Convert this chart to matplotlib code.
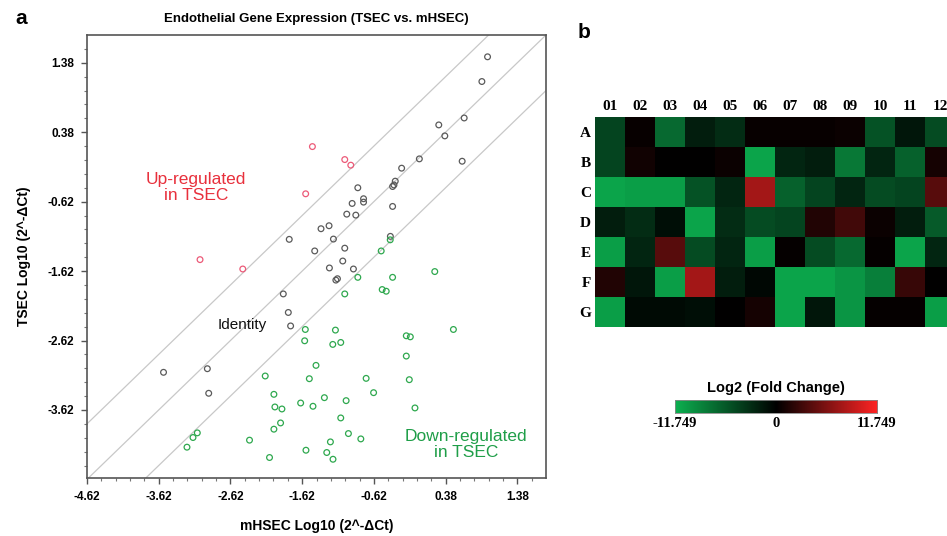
import numpy as np
import matplotlib
matplotlib.use("Agg")
import matplotlib.pyplot as plt
from matplotlib.colors import LinearSegmentedColormap

# Panel a: scatter data (log10 2^-dCt)
black_x = [0.965, 0.886, 0.639, 0.285, 0.369, 0.611, 0.014, -0.233, -0.322, -0.359,
           -0.34, -0.359, -0.844, -0.764, -0.764, -0.923, -0.998, -0.872, -1.245, -1.357,
           -1.8, -1.184, -1.445, -1.026, -1.054, -1.24, -0.905, -1.128, -1.15, -0.39,
           -1.883, -1.813, -1.781, -2.942, -3.553, -2.923]
black_y = [1.466, 1.11, 0.585, 0.485, 0.327, -0.038, -0.004, -0.138, -0.325, -0.402,
           -0.38, -0.689, -0.42, -0.578, -0.627, -0.646, -0.8, -0.814, -0.967, -1.01,
           -1.163, -1.159, -1.33, -1.29, -1.475, -1.575, -1.59, -1.73, -1.75, -1.12,
           -1.949, -2.216, -2.41, -3.026, -3.078, -3.38]

red_x = [-1.477, -1.026, -0.942, -1.571, -3.044, -2.448]
red_y = [0.173, -0.014, -0.095, -0.507, -1.455, -1.59]

green_x = [-0.392, -0.518, 0.229, -0.844, -0.359, -0.504, -0.448, -1.026, -1.576, -1.156,
           0.489, -1.585, -1.082, -1.193, -0.168, -0.112, -0.168, -1.427, -2.135, -1.52,
           -0.728, -0.126, -0.624, -2.014, -1.31, -1.641, -1.007, -1.469, -2.0, -1.902,
           -0.047, -1.082, -1.921, -2.014, -0.975, -3.082, -3.142, -3.226, -2.354, -0.802,
           -1.226, -1.567, -1.277, -2.075, -1.19]
green_y = [-1.17, -1.33, -1.627, -1.71, -1.71, -1.886, -1.91, -1.949, -2.461, -2.47,
           -2.461, -2.624, -2.648, -2.676, -2.552, -2.567, -2.844, -2.978, -3.131, -3.17,
           -3.165, -3.184, -3.371, -3.395, -3.443, -3.52, -3.486, -3.567, -3.577, -3.606,
           -3.591, -3.735, -3.807, -3.897, -3.96, -3.95, -4.017, -4.156, -4.055, -4.037,
           -4.08, -4.2, -4.233, -4.305, -4.33]

line_offsets = [0.8, 0.0, -0.8]
x_ticks = [-4.62, -3.62, -2.62, -1.62, -0.62, 0.38, 1.38]
y_ticks = [-3.62, -2.62, -1.62, -0.62, 0.38, 1.38]

# Panel b: log2 fold change per well
col_labels = ["01", "02", "03", "04", "05", "06", "07", "08", "09", "10", "11", "12"]
row_labels = ["A", "B", "C", "D", "E", "F", "G"]
fold_change = [
    [-4.5, 0.3, -7.0, -2.0, -3.0, 0.3, 0.3, 0.3, 0.5, -5.5, -1.5, -5.0],
    [-4.5, 0.8, 0.0, 0.0, 0.5, -11.0, -2.5, -2.0, -8.0, -2.5, -6.5, 1.0],
    [-11.0, -10.5, -10.5, -5.5, -2.5, 7.5, -6.5, -4.5, -2.5, -5.0, -4.5, 4.0],
    [-2.0, -3.0, -1.0, -11.0, -3.0, -5.0, -4.5, 1.5, 3.0, 0.5, -2.0, -6.0],
    [-10.5, -2.5, 4.0, -5.0, -2.5, -10.5, 0.2, -5.0, -7.0, 0.2, -11.0, -2.5],
    [1.5, -1.5, -10.5, 7.5, -2.0, -0.5, -11.0, -11.0, -10.0, -8.5, 2.5, 0.0],
    [-10.5, -0.7, -0.7, -1.0, 0.0, 1.0, -11.0, -1.5, -10.0, 0.2, 0.2, -10.5],
]
fc_limit = 11.749

fig = plt.figure(figsize=(9.47, 5.36), dpi=100)
sans = ["Liberation Sans", "DejaVu Sans"]
serif = ["Liberation Serif", "DejaVu Serif"]

# ---- panel a ----
ax = fig.add_axes([87 / 947, 1 - 478 / 536, 459 / 947, 443 / 536])
x_lo, x_hi = -4.62, 1.78
y_lo, y_hi = -4.60, 1.78
xs = np.array([x_lo - 1, x_hi + 1])
for off in line_offsets:
    ax.plot(xs, xs + off, color="#c8c8c8", linewidth=0.9, zorder=1)

ax.scatter(black_x, black_y, s=17, facecolors="none", edgecolors="#5a5a5a", linewidths=0.9, zorder=3)
ax.scatter(green_x, green_y, s=17, facecolors="none", edgecolors="#2ea84e", linewidths=0.9, zorder=3)
ax.scatter(red_x, red_y, s=17, facecolors="none", edgecolors="#ec5a78", linewidths=0.9, zorder=3)

ax.set_xlim(x_lo, x_hi)
ax.set_ylim(y_lo, y_hi)
ax.set_xticks(x_ticks)
ax.set_yticks(y_ticks)
ax.set_xticks(np.arange(-4.62, 1.78, 0.2), minor=True)
ax.set_yticks(np.arange(-4.42, 1.78, 0.2), minor=True)
ax.set_xticklabels([f"{v:.2f}" for v in x_ticks], family=sans, fontweight="bold", fontsize=8.5)
ax.set_yticklabels([f"{v:.2f}" for v in y_ticks], family=sans, fontweight="bold", fontsize=8.5)
ax.tick_params(which="major", length=4, width=1, color="#555555", pad=5)
ax.tick_params(which="minor", length=2, width=0.8, color="#777777")
for sp in ax.spines.values():
    sp.set_color("#555555")
    sp.set_linewidth(1.2)

ax.set_title("Endothelial Gene Expression (TSEC vs. mHSEC)", family=sans, fontweight="bold",
             fontsize=9.5, pad=9)
ax.set_xlabel("mHSEC Log10 (2^-\u0394Ct)", family=sans, fontweight="bold", fontsize=10, labelpad=12)
ax.set_ylabel("TSEC Log10 (2^-\u0394Ct)", family=sans, fontweight="bold", fontsize=10, labelpad=12)

ax.text(-3.10, -0.42, "Up-regulated\nin TSEC", color="#e8303c", fontsize=12.5, family=sans,
        ha="center", va="center", linespacing=1.05)
ax.text(-2.45, -2.40, "Identity", color="#111111", fontsize=11, family=sans,
        ha="center", va="center")
ax.text(1.52, -4.12, "Down-regulated\nin TSEC", color="#1f9e48", fontsize=12.5, family=sans,
        ha="right", va="center", multialignment="center", linespacing=1.05)

fig.text(15 / 947, 1 - 18 / 536, "a", family=sans, fontweight="bold", fontsize=15, va="center")
fig.text(578 / 947, 1 - 32 / 536, "b", family=sans, fontweight="bold", fontsize=15, va="center")

# ---- panel b ----
cmap = LinearSegmentedColormap.from_list("gkr", ["#0cb050", "#000000", "#ff2424"])
hx = fig.add_axes([595 / 947, 1 - 327 / 536, 360 / 947, 210 / 536])
hx.imshow(np.array(fold_change), cmap=cmap, vmin=-fc_limit, vmax=fc_limit, aspect="auto")
hx.set_xticks(range(len(col_labels)))
hx.set_xticklabels(col_labels, family=serif, fontweight="bold", fontsize=11)
hx.set_yticks(range(len(row_labels)))
hx.set_yticklabels(row_labels, family=serif, fontweight="bold", fontsize=11)
hx.xaxis.tick_top()
hx.tick_params(length=0, pad=3)
for sp in hx.spines.values():
    sp.set_visible(False)

# colour bar
cx = fig.add_axes([675 / 947, 1 - 413 / 536, 202 / 947, 13 / 536])
grad = np.linspace(-fc_limit, fc_limit, 256).reshape(1, -1)
cx.imshow(grad, cmap=cmap, vmin=-fc_limit, vmax=fc_limit, aspect="auto",
          extent=[-fc_limit, fc_limit, 0, 1])
cx.set_yticks([])
cx.set_xticks([-fc_limit, 0, fc_limit])
cx.set_xticklabels(["-11.749", "0", "11.749"], family=serif, fontweight="bold", fontsize=10.5)
cx.tick_params(length=0, pad=3)
for sp in cx.spines.values():
    sp.set_color("#888888")
    sp.set_linewidth(0.6)
cx.set_title("Log2 (Fold Change)", family=sans, fontweight="bold", fontsize=10.5, pad=6)

fig.savefig("out.png", dpi=100)
